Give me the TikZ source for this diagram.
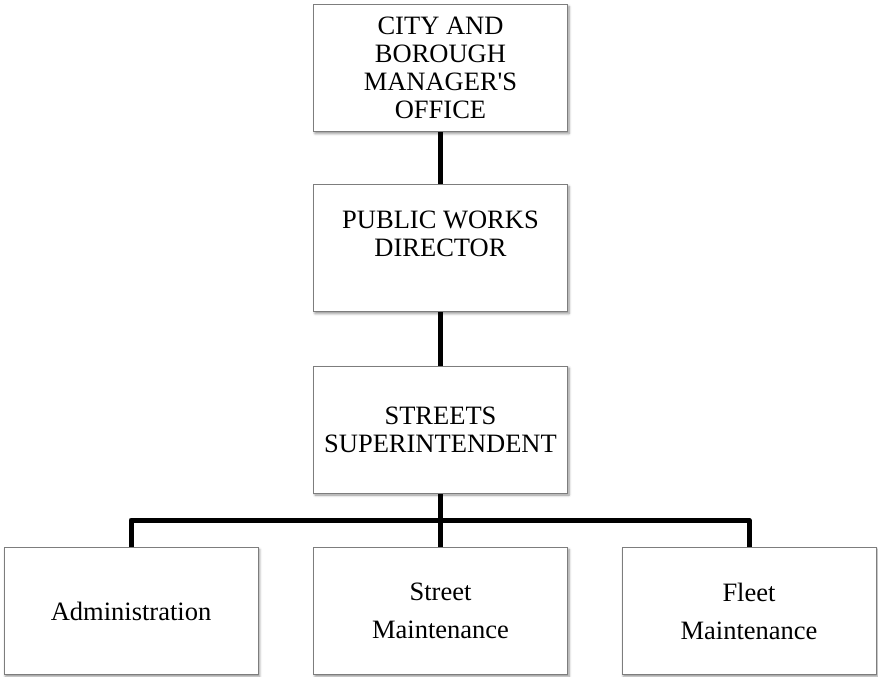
\documentclass[tikz,border=0pt]{standalone}
\usepackage{fontspec}
\setmainfont{Liberation Serif}
\usepackage{tikz}
\usetikzlibrary{
    calc,
    positioning,
    shadows.blur,
    backgrounds
}
\definecolor{ink}{RGB}{0,0,0}
\definecolor{frame}{RGB}{125,125,125}
\definecolor{boxfill}{RGB}{255,255,255}
\tikzset{
    line cap=round,
    line join=round,
    pop/.style={
        blur shadow={shadow blur steps=5, shadow xshift=1.5pt, shadow yshift=-2pt,
                     shadow blur radius=2.5pt, shadow opacity=45}
    },
    orgbox/.style={
        rectangle,
        draw=frame,
        line width=1pt,
        fill=boxfill,
        text=ink,
        minimum width=254pt,
        minimum height=127pt,
        align=center,
        inner sep=0pt,
        pop
    },
    headbox/.style={
        orgbox,
        font=\fontsize{26.5}{28}\selectfont
    },
    unitbox/.style={
        orgbox,
        font=\fontsize{26.5}{38}\selectfont
    },
    orgline/.style={
        draw=ink,
        line width=5pt,
        line cap=butt,
        line join=round
    }
}

\begin{document}
\begin{tikzpicture}[x=1pt, y=1pt]
\useasboundingbox (0,0) rectangle (878,-677);

% Chain of command
\node[headbox] (manager) at (440.5,-68) {CITY AND\\BOROUGH\\MANAGER\textquotesingle S\\OFFICE};
\node[headbox] (director) at (440.5,-248) {PUBLIC WORKS\\DIRECTOR\\~};
\node[headbox] (super) at (440.5,-429.5) {STREETS\\SUPERINTENDENT};

% Units
\node[unitbox] (admin) at (131,-611) {Administration};
\node[unitbox] (street) at (440.5,-611) {Street\\Maintenance};
\node[unitbox] (fleet) at (749,-611) {Fleet\\Maintenance};

% Connectors
\coordinate (bar) at (440.5,-520);
\begin{scope}[on background layer]
\draw[orgline] (manager.south) -- (director.north);
\draw[orgline] (director.south) -- (super.north);
\draw[orgline] (super.south) -- (street.north);
\draw[orgline] (admin.north) -- (admin.north |- bar) -- (fleet.north |- bar) -- (fleet.north);
\end{scope}
\end{tikzpicture}
\end{document}
